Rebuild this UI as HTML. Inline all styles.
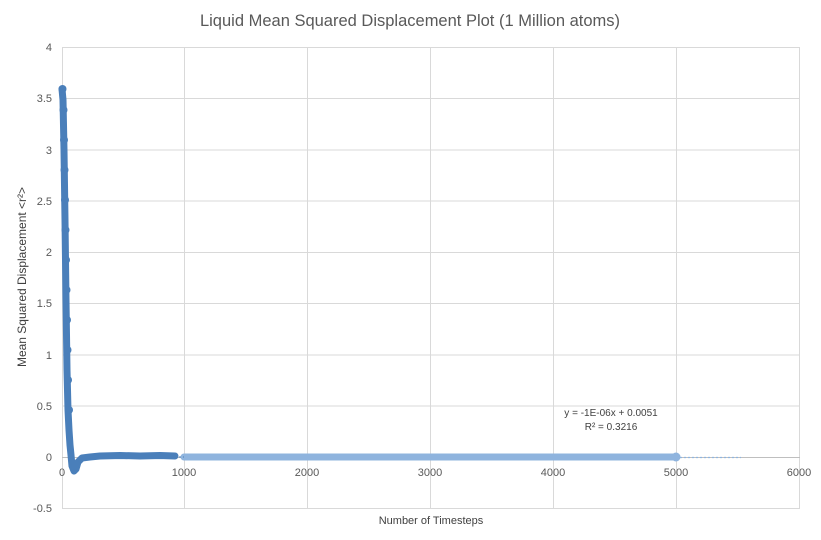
<!DOCTYPE html>
<html><head><meta charset="utf-8"><style>
body{margin:0;background:#fff;}
svg{display:block;font-family:"Liberation Sans",sans-serif;}
</style></head><body>
<svg width="821" height="540" viewBox="0 0 821 540">
<rect width="821" height="540" fill="#fff"/>
<text x="410" y="26" font-size="16.5" fill="#595959" text-anchor="middle">Liquid Mean Squared Displacement Plot (1 Million atoms)</text>
<g stroke="#d9d9d9" stroke-width="1">
<line x1="62" y1="47.5" x2="800" y2="47.5"/>
<line x1="62" y1="98.5" x2="800" y2="98.5"/>
<line x1="62" y1="150" x2="800" y2="150"/>
<line x1="62" y1="201" x2="800" y2="201"/>
<line x1="62" y1="252.5" x2="800" y2="252.5"/>
<line x1="62" y1="303.5" x2="800" y2="303.5"/>
<line x1="62" y1="355" x2="800" y2="355"/>
<line x1="62" y1="406" x2="800" y2="406"/>
<line x1="62" y1="508.5" x2="800" y2="508.5"/>
<line x1="62.5" y1="47" x2="62.5" y2="508"/>
<line x1="184.5" y1="47" x2="184.5" y2="508"/>
<line x1="307.5" y1="47" x2="307.5" y2="508"/>
<line x1="430.5" y1="47" x2="430.5" y2="508"/>
<line x1="553.5" y1="47" x2="553.5" y2="508"/>
<line x1="676.5" y1="47" x2="676.5" y2="508"/>
<line x1="799.5" y1="47" x2="799.5" y2="508"/>
</g>
<line x1="62" y1="457.5" x2="800" y2="457.5" stroke="#bfbfbf"/>
<g font-size="11" fill="#595959" text-anchor="end">
<text x="52" y="51">4</text><text x="52" y="102">3.5</text><text x="52" y="154">3</text>
<text x="52" y="205">2.5</text><text x="52" y="256">2</text><text x="52" y="307">1.5</text>
<text x="52" y="359">1</text><text x="52" y="410">0.5</text><text x="52" y="461">0</text>
<text x="52" y="512">-0.5</text>
</g>
<g font-size="11" fill="#595959" text-anchor="middle">
<text x="62" y="476">0</text><text x="184" y="476">1000</text><text x="307" y="476">2000</text>
<text x="430" y="476">3000</text><text x="553" y="476">4000</text><text x="676" y="476">5000</text>
<text x="799" y="476">6000</text>
</g>
<text x="431" y="524" font-size="11" fill="#404040" text-anchor="middle">Number of Timesteps</text>
<text transform="translate(26,277) rotate(-90)" font-size="12" fill="#404040" text-anchor="middle">Mean Squared Displacement &lt;r²&gt;</text>
<line x1="184" y1="457" x2="676" y2="457" stroke="#8fb4de" stroke-width="7" stroke-linecap="round"/>
<circle cx="676" cy="457" r="4.5" fill="#8fb4de"/>
<line x1="680" y1="457.5" x2="741" y2="457.5" stroke="#8fb4de" stroke-width="1.2" stroke-dasharray="2,2"/>
<polyline fill="none" stroke="#4a7fba" stroke-width="7" stroke-linecap="round" stroke-linejoin="round"
points="62,89 63,100 64,150 65,220 66,300 67,370 68,410 69,430 70,445 71,455 72,466 74,471 76,469 78,462 82,458 90,457 100,456 120,455.5 140,456 160,455.5 175,456"/>
<g fill="#4a7fba">
<circle cx="62.5" cy="89" r="4"/><circle cx="63.5" cy="110" r="4"/><circle cx="64" cy="140" r="4"/>
<circle cx="64.5" cy="170" r="4"/><circle cx="65" cy="200" r="4"/><circle cx="65.5" cy="230" r="4"/>
<circle cx="66" cy="260" r="4"/><circle cx="66.5" cy="290" r="4"/><circle cx="67" cy="320" r="4"/>
<circle cx="67.5" cy="350" r="4"/><circle cx="68" cy="380" r="4"/><circle cx="69" cy="410" r="4"/>
</g>
<line x1="175" y1="457" x2="184" y2="457" stroke="#4a7fba" stroke-width="1" stroke-dasharray="2,2"/>
<text x="611" y="416" font-size="10" fill="#404040" text-anchor="middle">y = -1E-06x + 0.0051</text>
<text x="611" y="430" font-size="10" fill="#404040" text-anchor="middle">R² = 0.3216</text>
</svg>
</body></html>
